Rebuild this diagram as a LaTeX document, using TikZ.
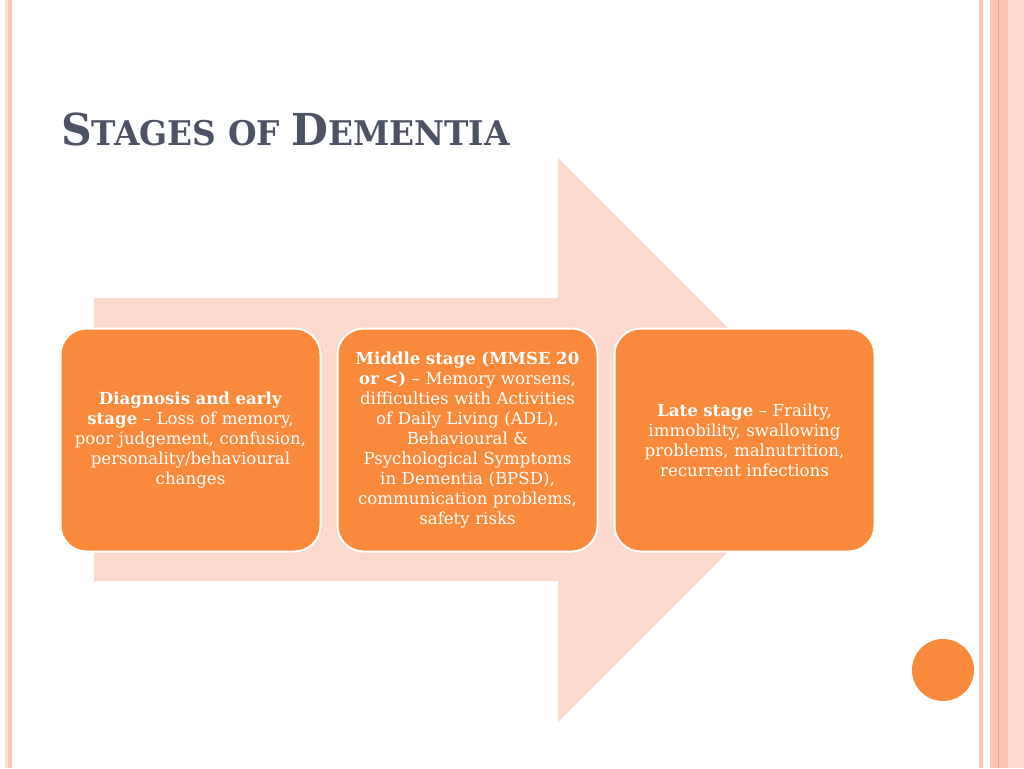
\documentclass[tikz,border=0pt]{standalone}
\usepackage{fontspec}
\usepackage{tikz}
\usetikzlibrary{positioning, calc}

\newfontfamily\bodyfont{DejaVu Serif}

\definecolor{stageorange}{HTML}{F98A3B}
\definecolor{arrowpink}{HTML}{FCD9CC}
\definecolor{titlegray}{HTML}{4D5264}
\definecolor{railpink}{HTML}{F9C6B3}
\definecolor{railpale}{HTML}{FCE2D8}
\definecolor{raildark}{HTML}{F4A27F}

\begin{document}
\begin{tikzpicture}[x=1pt, y=-1pt,
    stagebox/.style={rectangle, rounded corners=26pt, fill=stageorange, draw=white, line width=2pt,
      minimum width=260pt, minimum height=223pt, text width=250pt, align=center, text=white,
      font=\bodyfont\fontsize{16.6}{20}\selectfont, inner sep=0pt}]

  % --- Page and side rails ---
  \useasboundingbox[fill=white] (0,0) rectangle (1024,768);
  \fill[railpale] (5,0) rectangle (8,768);
  \fill[railpink] (8,0) rectangle (12,768);
  \fill[railpink] (979,0) rectangle (983,768);
  \fill[railpink] (990,0) rectangle (1008,768);
  \fill[railpale!70!railpink] (1008,0) rectangle (1024,768);
  \draw[raildark, line width=0.8pt] (998.5,0) -- (998.5,768);

  % --- Title ---
  \node[anchor=base west, inner sep=0pt, text=titlegray] (title) at (61,145)
    {\scalebox{0.965}[1]{\bodyfont\bfseries\fontsize{44}{44}\selectfont S\fontsize{34}{34}\selectfont TAGES OF
     \fontsize{44}{44}\selectfont D\fontsize{34}{34}\selectfont EMENTIA}};

  % --- Background arrow ---
  \fill[arrowpink] (94,298) -- (558,298) -- (558,158) -- (840,440) -- (558,722)
    -- (558,581) -- (94,581) -- cycle;

  % --- Stage boxes ---
  \node[stagebox] (early) at (190.5,440)
    {\textbf{Diagnosis and early}\\ \textbf{stage} – Loss of memory,\\ poor judgement, confusion,\\
     personality/behavioural\\ changes};
  \node[stagebox, right=15pt of early] (middle)
    {\textbf{Middle stage (MMSE 20}\\ \textbf{or <)} – Memory worsens,\\ difficulties with Activities\\
     of Daily Living (ADL),\\ Behavioural \&\\ Psychological Symptoms\\ in Dementia (BPSD),\\
     communication problems,\\ safety risks};
  \node[stagebox, right=15pt of middle] (late)
    {\textbf{Late stage} – Frailty,\\ immobility, swallowing\\ problems, malnutrition,\\ recurrent infections};

  % --- Corner dot ---
  \fill[stageorange] (943,670) circle (31);

\end{tikzpicture}
\end{document}
